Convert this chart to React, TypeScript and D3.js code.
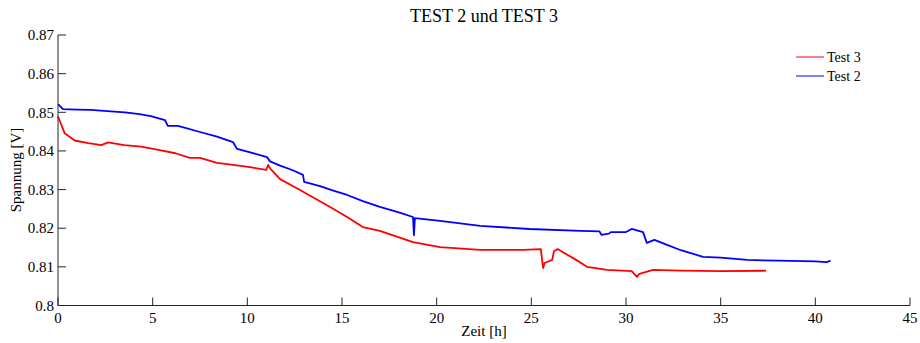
import React from "react";
import * as d3 from "d3";

const title = "TEST 2 und TEST 3";
const xLabel = "Zeit [h]";
const yLabel = "Spannung [V]";
const xTicks = [0, 5, 10, 15, 20, 25, 30, 35, 40, 45];
const yTicks = [0.8, 0.81, 0.82, 0.83, 0.84, 0.85, 0.86, 0.87];
const seriesNames = ["Test 3", "Test 2"];

// Test 2 (blue): [hours, volts]
const test2: [number, number][] = [
  [0, 0.8521], [0.26, 0.8508], [1, 0.8507], [1.74, 0.8506], [2.6, 0.8503], [3.54, 0.85],
  [4.3, 0.8495], [4.9, 0.849], [5.65, 0.848], [5.8, 0.8465], [6.34, 0.8465], [7.5, 0.8449],
  [8.4, 0.8437], [9.24, 0.8423], [9.46, 0.8405], [10.1, 0.8397], [11.04, 0.8384],
  [11.2, 0.8373], [11.73, 0.8362], [12.4, 0.835], [12.94, 0.8338], [13.0, 0.832],
  [13.84, 0.8309], [14.5, 0.8298], [15.27, 0.8286], [16.1, 0.827], [17, 0.8255],
  [18, 0.8241], [18.75, 0.8229], [18.8, 0.8182], [18.85, 0.8226], [20.18, 0.8219],
  [22.3, 0.8206], [24.9, 0.8198], [27.6, 0.8193], [28.6, 0.8192], [28.7, 0.8183],
  [29.1, 0.8186], [29.2, 0.819], [30.0, 0.819], [30.3, 0.8198], [30.9, 0.819],
  [31.1, 0.8162], [31.5, 0.817], [32, 0.816], [32.9, 0.8143], [33.2, 0.8139],
  [34.07, 0.8126], [35, 0.8124], [36.4, 0.8118], [38, 0.8116], [40, 0.8114],
  [40.6, 0.8112], [40.8, 0.8116],
];

// Test 3 (red): [hours, volts]
const test3: [number, number][] = [
  [0, 0.8489], [0.35, 0.8446], [0.88, 0.8427], [1.6, 0.842], [2.29, 0.8415], [2.64, 0.8422],
  [3.5, 0.8415], [4.4, 0.8411], [5.3, 0.8403], [6.2, 0.8394], [6.97, 0.8382],
  [7.5, 0.8382], [8.4, 0.8369], [9.24, 0.8364], [10.14, 0.8358], [11.0, 0.8351],
  [11.1, 0.8364], [11.2, 0.8355], [11.73, 0.8327], [12.78, 0.8299], [14.37, 0.8255],
  [15.27, 0.8229], [16.1, 0.8203], [17.0, 0.8193], [18.75, 0.8164], [20.18, 0.8151],
  [22.3, 0.8144], [24.56, 0.8144], [25.5, 0.8146], [25.62, 0.8097], [25.7, 0.811],
  [26.1, 0.8118], [26.2, 0.8141], [26.4, 0.8146], [26.6, 0.814], [27.3, 0.812],
  [27.94, 0.81], [29.0, 0.8092], [30.3, 0.8089], [30.58, 0.8074], [30.7, 0.8082],
  [31.43, 0.8092], [32.9, 0.809], [35, 0.8089], [37.4, 0.809],
];

const colors = ["#ff0000", "#0000ff"];

export default function App() {
  const W = 920, H = 343;
  const x = d3.scaleLinear().domain([0, 45]).range([58, 910]);
  const y = d3.scaleLinear().domain([0.8, 0.87]).range([305.5, 35]);
  const line = d3.line<[number, number]>().x(d => x(d[0])).y(d => y(d[1]));
  const tf: React.CSSProperties = { fontFamily: "Liberation Serif, serif" };
  const axisColor = "#262626";
  return (
    <svg width={W} height={H} style={{ position: "absolute", left: 0, top: 0, background: "#fff" }}>
      <rect x={0} y={0} width={W} height={H} fill="#fff" />
      <text x={484} y={22} textAnchor="middle" fontSize={18} fill="#000" style={tf}>{title}</text>
      <path d={line(test3) || ""} fill="none" stroke={colors[0]} strokeWidth={1.8} strokeLinejoin="round" />
      <path d={line(test2) || ""} fill="none" stroke={colors[1]} strokeWidth={1.8} strokeLinejoin="round" />
      <line x1={x(0)} x2={x(0)} y1={y(0.87)} y2={y(0.8)} stroke={axisColor} strokeWidth={1} />
      <line x1={x(0)} x2={x(45)} y1={y(0.8)} y2={y(0.8)} stroke={axisColor} strokeWidth={1} />
      {yTicks.map(t => (
        <g key={"y" + t}>
          <line x1={x(0)} x2={x(0) + 8} y1={y(t)} y2={y(t)} stroke={axisColor} />
          <text x={x(0) - 4} y={y(t)} dy="0.35em" textAnchor="end" fontSize={15} fill="#000" style={tf}>{String(t)}</text>
        </g>
      ))}
      {xTicks.map(t => (
        <g key={"x" + t}>
          <line x1={x(t)} x2={x(t)} y1={y(0.8)} y2={y(0.8) - 8} stroke={axisColor} />
          <text x={x(t)} y={y(0.8) + 17} textAnchor="middle" fontSize={15} fill="#000" style={tf}>{String(t)}</text>
        </g>
      ))}
      <text x={484} y={336} textAnchor="middle" fontSize={15} fill="#000" style={tf}>{xLabel}</text>
      <text transform={`translate(21,170) rotate(-90)`} textAnchor="middle" fontSize={15} fill="#000" style={tf}>{yLabel}</text>
      {seriesNames.map((n, i) => (
        <g key={n}>
          <line x1={796} x2={824} y1={57 + i * 19} y2={57 + i * 19} stroke={colors[i]} strokeWidth={1} />
          <text x={827} y={57 + i * 19} dy="0.35em" fontSize={14} fill="#000" style={tf}>{n}</text>
        </g>
      ))}
    </svg>
  );
}
